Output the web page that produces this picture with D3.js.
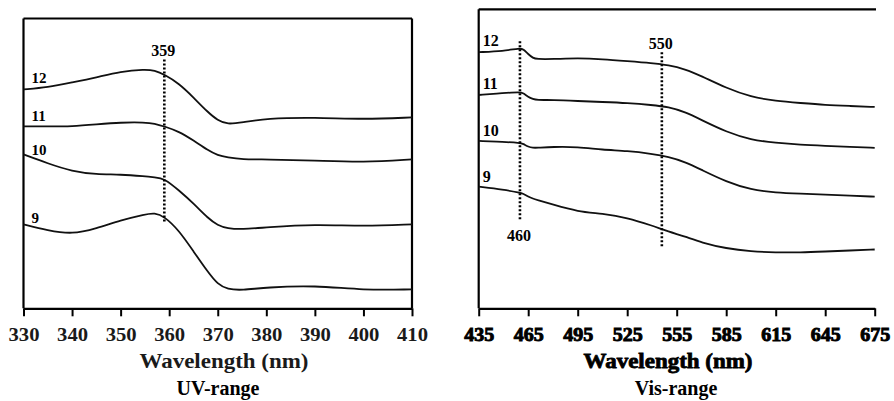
<!DOCTYPE html>
<html><head><meta charset="utf-8">
<script src="https://cdn.jsdelivr.net/npm/d3@7"></script>
<style>
html,body{margin:0;padding:0;background:#fff;}
svg{display:block;}
text{font-family:"Liberation Serif","Times New Roman",serif;font-weight:bold;}
</style></head>
<body>
<svg id="chart" width="894" height="401"></svg>
<script>
// ---------- DATA ----------
const uvWavelengths = [330,335,340,345,350,355,357,359,362,365,368,370,372,375,380,390,400,410];
const uv12 = [2.19,2.21,2.26,2.31,2.37,2.39,2.38,2.34,2.25,2.11,1.96,1.88,1.84,1.86,1.90,1.91,1.89,1.91];
const uv11 = [1.82,1.82,1.82,1.84,1.86,1.86,1.85,1.82,1.77,1.68,1.58,1.53,1.51,1.49,1.49,1.48,1.46,1.49];
const uv10 = [1.54,1.45,1.37,1.34,1.34,1.32,1.31,1.30,1.18,1.05,0.90,0.83,0.80,0.79,0.81,0.84,0.82,0.84];
const uv9  = [0.84,0.78,0.74,0.80,0.88,0.94,0.955,0.92,0.78,0.57,0.36,0.24,0.19,0.18,0.21,0.23,0.18,0.19];
const uvSeriesNames = ["12","11","10","9"];
const uvTicks = [330,340,350,360,370,380,390,400,410];
const uvMarkers = [{wl:359, label:"359", top:2.49, bottom:0.86, labelPos:"top"}];

const visWavelengths = [435,450,460,462,465,468,470,480,495,510,525,540,550,560,570,585,600,615,630,645,660,675];
const vis12 = [2.57,2.58,2.61,2.60,2.55,2.51,2.50,2.50,2.51,2.50,2.48,2.46,2.44,2.40,2.33,2.21,2.12,2.08,2.06,2.04,2.03,2.02];
const vis11 = [2.14,2.16,2.17,2.16,2.12,2.10,2.09,2.09,2.08,2.07,2.06,2.04,2.02,1.97,1.89,1.77,1.69,1.66,1.64,1.63,1.62,1.61];
const vis10 = [1.68,1.67,1.66,1.65,1.62,1.61,1.61,1.62,1.62,1.59,1.58,1.55,1.52,1.47,1.39,1.27,1.19,1.16,1.15,1.14,1.13,1.12];
const vis9  = [1.22,1.19,1.16,1.15,1.12,1.10,1.09,1.04,0.97,0.95,0.91,0.83,0.77,0.72,0.66,0.60,0.57,0.56,0.56,0.57,0.58,0.59];
const visSeriesNames = ["12","11","10","9"];
const visTicks = [435,465,495,525,555,585,615,645,675];
const visMarkers = [
  {wl:460, label:"460", top:2.68, bottom:0.89, labelPos:"bottom"},
  {wl:546, label:"550", top:2.57, bottom:0.62, labelPos:"top"}
];

const xTitle = "Wavelength (nm)";
const uvCaption = "UV-range";
const visCaption = "Vis-range";

// ---------- DRAW ----------
const svg = d3.select("#chart");

function panel(cfg){
  const g = svg.append("g");
  const x = d3.scaleLinear().domain(cfg.xDomain).range([cfg.left, cfg.right]);
  const y = d3.scaleLinear().domain(cfg.yDomain).range([cfg.bottom, cfg.top]);

  // frame
  g.append("line").attr("x1",cfg.left).attr("x2",cfg.frameRight).attr("y1",cfg.top).attr("y2",cfg.top)
    .attr("stroke","#000").attr("stroke-width",2.2);
  g.append("line").attr("x1",cfg.left).attr("x2",cfg.left).attr("y1",cfg.top).attr("y2",cfg.bottom)
    .attr("stroke","#000").attr("stroke-width",2.2);
  if(cfg.rightBorder){
    g.append("line").attr("x1",cfg.right).attr("x2",cfg.right).attr("y1",cfg.top).attr("y2",cfg.bottom)
      .attr("stroke","#000").attr("stroke-width",2.2);
  }

  // x axis
  const ax = g.append("g").attr("transform",`translate(0,${cfg.bottom})`)
    .call(d3.axisBottom(x).tickValues(cfg.ticks).tickSize(8).tickSizeOuter(0).tickFormat(d3.format("d")));
  ax.select(".domain").attr("stroke","#000").attr("stroke-width",2.2);
  ax.selectAll(".tick line").attr("stroke","#000").attr("stroke-width",2);
  ax.selectAll(".tick text")
    .attr("y",32.5).attr("dy",null)
    .attr("font-family",'"Liberation Serif","Times New Roman",serif')
    .attr("font-weight","bold")
    .attr("font-size",cfg.tickFont)
    .attr("fill",cfg.tickColor)
    .attr("textLength",cfg.tickWidth).attr("lengthAdjust","spacingAndGlyphs")
    .attr("stroke",cfg.tickStroke ? "#000" : null)
    .attr("stroke-width",cfg.tickStroke || null);

  // lines
  const line = d3.line().x((d,i)=>x(cfg.wl[i])).y(d=>y(d)).curve(d3.curveBasis);
  cfg.series.forEach((vals,k)=>{
    g.append("path").attr("d",line(vals)).attr("fill","none")
      .attr("stroke","#111").attr("stroke-width",1.8);
    const lw = cfg.labelWl;
    const v = vals[0] + (vals[1]-vals[0])*(lw-cfg.wl[0])/(cfg.wl[1]-cfg.wl[0]);
    g.append("text").attr("x",cfg.left+cfg.labelDx).attr("y",y(v)-cfg.labelDy)
      .attr("font-size",cfg.seriesFont).attr("fill","#000").text(cfg.names[k]);
  });

  // markers
  cfg.markers.forEach(m=>{
    g.append("line").attr("x1",x(m.wl)).attr("x2",x(m.wl)).attr("y1",y(m.top)).attr("y2",y(m.bottom))
      .attr("stroke","#000").attr("stroke-width",2.6).attr("stroke-dasharray","2,2");
    g.append("text").attr("x",x(m.wl)-1)
      .attr("y", m.labelPos==="top" ? y(m.top)-3 : y(m.bottom)+21)
      .attr("text-anchor","middle").attr("font-size",16).attr("fill","#000").text(m.label);
  });

  // titles
  g.append("text").attr("x",cfg.titleX).attr("y",368).attr("text-anchor","middle")
    .attr("font-size",21).attr("fill",cfg.titleColor)
    .attr("stroke",cfg.titleStroke ? "#000" : null).attr("stroke-width",cfg.titleStroke||null)
    .attr("textLength",169).attr("lengthAdjust","spacingAndGlyphs")
    .text(xTitle);
  g.append("text").attr("x",cfg.captionX).attr("y",395).attr("text-anchor","middle")
    .attr("font-size",20).attr("fill","#000").text(cfg.caption);
}

panel({
  xDomain:[330,410], yDomain:[0,2.9], left:23.5, right:412, top:18.5, bottom:308.3, frameRight:412,
  rightBorder:true, ticks:uvTicks, wl:uvWavelengths, series:[uv12,uv11,uv10,uv9], names:uvSeriesNames,
  markers:uvMarkers, labelWl:333, labelDx:8, labelDy:5, seriesFont:15,
  tickFont:19, tickWidth:31, tickColor:"#1a1a1a", tickStroke:0,
  titleX:224, titleColor:"#1a1a1a", titleStroke:0, captionX:218, caption:uvCaption
});

panel({
  xDomain:[435,675], yDomain:[0,3.0], left:478.7, right:874.7, top:9.3, bottom:308.3, frameRight:876,
  rightBorder:false, ticks:visTicks, wl:visWavelengths, series:[vis12,vis11,vis10,vis9], names:visSeriesNames,
  markers:visMarkers, labelWl:440, labelDx:4, labelDy:5.5, seriesFont:16,
  tickFont:18, tickWidth:30, tickColor:"#000", tickStroke:0.9,
  titleX:668, titleColor:"#000", titleStroke:0.8, captionX:676, caption:visCaption
});
</script>
</body></html>
